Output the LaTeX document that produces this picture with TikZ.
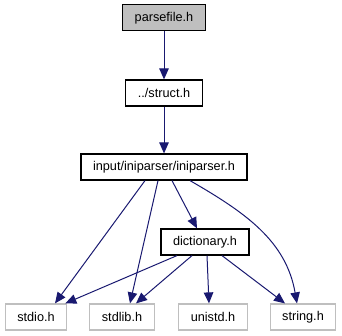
\documentclass[tikz,border=0pt]{standalone}
\usepackage{fontspec}
\setmainfont{Liberation Sans}
\usetikzlibrary{positioning, calc, arrows.meta}
\tikzset{>={Triangle[length=11pt,width=9.5pt]}}
\definecolor{edgeblue}{HTML}{191970}
\definecolor{boxgray}{HTML}{BFBFBF}

\begin{document}
\begin{tikzpicture}
    [
        x=1pt, y=1pt,
        every node/.style={font=\fontsize{12.7}{15}\selectfont, inner xsep=12pt, inner ysep=0pt, minimum height=26pt},
        root_node/.style={rectangle, draw=black, fill=boxgray, line width=1pt},
        file_node/.style={rectangle, draw=black, fill=white, line width=1.2pt},
        sys_node/.style={rectangle, draw=boxgray, fill=white, line width=1.2pt},
        inc/.style={->, draw=edgeblue, line width=1pt},
    ]
  \useasboundingbox (0,0) rectangle (342,-336);

  \node[root_node] (parse) at (164,-18) {parsefile.h};
  \node[file_node] (struct) at (164,-93) {../struct.h};
  \node[file_node] (ini) at (164,-167) {input/iniparser/iniparser.h};
  \node[file_node] (dict) at (205,-242) {dictionary.h};

  \node[sys_node] (stdio) at (36,-317) {stdio.h};
  \node[sys_node] (stdlib) at (122,-317) {stdlib.h};
  \node[sys_node] (unistd) at (213,-317) {unistd.h};
  \node[sys_node] (string) at (303,-317) {string.h};

  \draw[inc] (parse) -- (struct);
  \draw[inc] (struct) -- (ini);

  \draw[inc] ([xshift=-19]ini.south) -- ([xshift=19]stdio.north);
  \draw[inc] ([xshift=-6]ini.south) -- ([xshift=8]stdlib.north);
  \draw[inc] ([xshift=8]ini.south) -- ([xshift=-8]dict.north);
  \draw[inc] ([xshift=26]ini.south) to[out=-30, in=100] ([xshift=-6]string.north);

  \draw[inc] ([xshift=-28]dict.south) -- ([xshift=-2]stdio.north east);
  \draw[inc] ([xshift=-13]dict.south) -- ([xshift=14]stdlib.north);
  \draw[inc] ([xshift=2]dict.south) -- ([xshift=-4]unistd.north);
  \draw[inc] ([xshift=17]dict.south) -- ([xshift=-18]string.north);
\end{tikzpicture}
\end{document}
